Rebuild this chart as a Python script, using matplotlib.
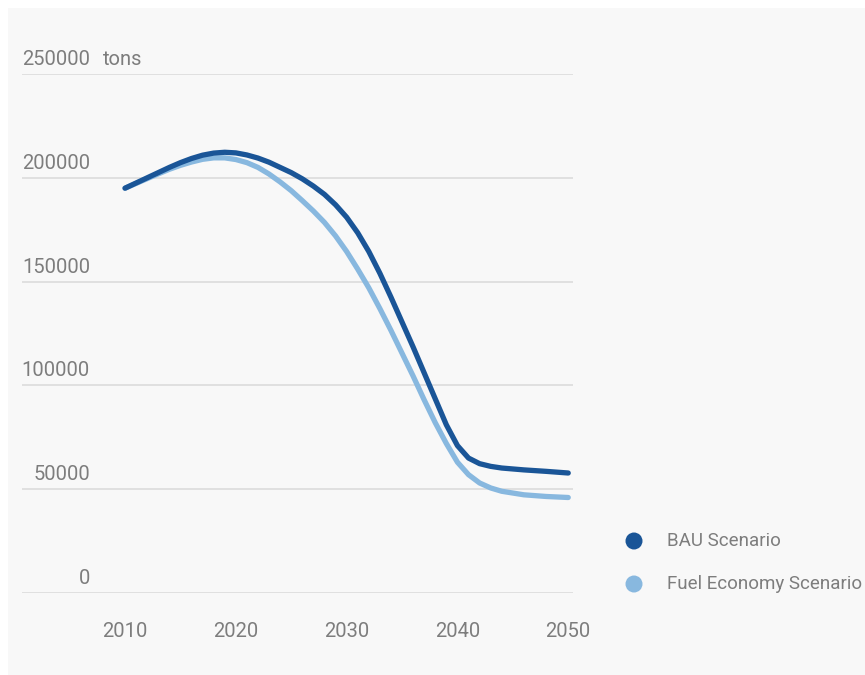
import matplotlib
matplotlib.use("Agg")
import matplotlib.pyplot as plt
from matplotlib.patches import Rectangle, Circle

plt.rcParams['font.family'] = ['Roboto', 'DejaVu Sans']

# emissions, tons per year
years_bau = [2010, 2011, 2012, 2013, 2014, 2015, 2016, 2017, 2018, 2019, 2020,
             2021, 2022, 2023, 2024, 2025, 2026, 2027, 2028, 2029, 2030, 2031,
             2032, 2033, 2034, 2035, 2036, 2037, 2038, 2039, 2040, 2041, 2042,
             2043, 2044, 2046, 2048, 2050]
bau = [195000, 197500, 200000, 202500, 205000, 207300, 209300, 210900, 211900,
       212300, 212000, 211000, 209500, 207500, 205000, 202500, 199500, 196000,
       192000, 187000, 181000, 173500, 164500, 154000, 142500, 130500, 118500,
       106000, 93500, 81000, 71000, 65000, 62300, 61000, 60200, 59300, 58600,
       57800]

years_fuel = [2010, 2011, 2012, 2013, 2014, 2015, 2016, 2017, 2018, 2019, 2020,
              2021, 2022, 2023, 2024, 2025, 2026, 2027, 2028, 2029, 2030, 2031,
              2032, 2033, 2034, 2035, 2036, 2037, 2038, 2039, 2040, 2041, 2042,
              2043, 2044, 2046, 2048, 2050]
fuel = [195000, 197300, 199600, 201900, 204100, 206000, 207600, 208900, 209600,
        209600, 208800, 207300, 205000, 201800, 198000, 193800, 189000, 184000,
        178500, 172000, 164500, 156000, 147000, 137000, 126500, 115500, 104500,
        93000, 82000, 72000, 63000, 57000, 53000, 50600, 49000, 47300, 46500,
        46000]

yticks = [0, 50000, 100000, 150000, 200000, 250000]
xticks = [2010, 2020, 2030, 2040, 2050]
series_names = ['BAU Scenario', 'Fuel Economy Scenario']

dark_blue = '#1a5597'
light_blue = '#88b8df'
text_gray = '#7d7d7d'
bg = '#f8f8f8'

W, H = 865, 675
fig = plt.figure(figsize=(W / 100, H / 100), dpi=100)
fig.patch.set_facecolor('white')
fig.add_artist(Rectangle((8 / W, 0 / H), 1, (H - 8) / H,
                         transform=fig.transFigure, facecolor=bg,
                         edgecolor='none', zorder=-10))

ax = fig.add_axes([22 / W, (H - 593) / H, (573 - 22) / W, (593 - 74) / H])
ax.set_facecolor('none')
ax.set_xlim(2000.70, 2050.43)
ax.set_ylim(0, 250000)

for v in yticks:
    ax.axhline(v, color='#dedede', lw=1.3, zorder=1)
    ax.annotate(str(v), xy=(0, v), xycoords=('axes fraction', 'data'),
                xytext=(68, 9), textcoords='offset pixels',
                ha='right', va='baseline', fontsize=14.5, color=text_gray)
ax.annotate('tons', xy=(0, 250000), xycoords=('axes fraction', 'data'),
            xytext=(81, 9), textcoords='offset pixels',
            ha='left', va='baseline', fontsize=14.5, color=text_gray)

ax.plot(years_fuel, fuel, color=light_blue, lw=3.8, solid_capstyle='round',
        solid_joinstyle='round', zorder=3)
ax.plot(years_bau, bau, color=dark_blue, lw=3.8, solid_capstyle='round',
        solid_joinstyle='round', zorder=4)

ax.set_yticks([])
ax.set_xticks(xticks)
ax.set_xticklabels([str(x) for x in xticks], fontsize=14.5, color=text_gray)
ax.tick_params(axis='x', length=0, pad=21)
for s in ax.spines.values():
    s.set_visible(False)

# legend drawn by hand: round dots + labels
for i, (name, col) in enumerate(zip(series_names, [dark_blue, light_blue])):
    yc = 541 + i * 43
    fig.add_artist(Circle((634 / 100, (H - yc) / 100), 0.085,
                          transform=fig.dpi_scale_trans, facecolor=col,
                          edgecolor='none'))
    fig.text(667 / W, (H - yc) / H, name, ha='left', va='center',
             fontsize=13.5, color=text_gray)

fig.savefig('out.png', dpi=100, facecolor=fig.get_facecolor())
